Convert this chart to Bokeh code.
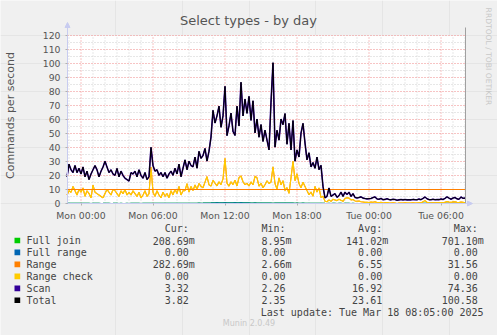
from datetime import datetime, timedelta
import math
from bokeh.plotting import figure
from bokeh.models import (ColumnDataSource, Range1d, FixedTicker, DatetimeTickFormatter,
                          DatetimeAxis, LinearAxis, BoxAnnotation, Arrow, NormalHead)
from bokeh.core.properties import value
from bokeh.transform import stack
from bokeh.embed import file_html
from bokeh.resources import INLINE

# ---------------- data ----------------
start_time = datetime(2025, 3, 16, 22, 50)
step_minutes = 10

full_join = [
    0.08, 0.1, 0.06, 0.12, 0.09, 0.07, 0.1, 0.08, 0.11, 0.06,
    0.09, 0.07, 0.05, 0.1, 0.08, 0.06, 0.07, 0.05, 0.06, 0.09,
    0.08, 0.07, 0.05, 0.06, 0.08, 0.07, 0.05, 0.06, 0.04, 0.05,
    0.06, 0.05, 0.07, 0.06,
    0.08, 0.06, 0.07, 0.05, 0.09, 0.08, 0.06, 0.1, 0.12, 0.09,
    0.08, 0.11, 0.1, 0.09, 0.12, 0.1, 0.11, 0.13, 0.12, 0.15,
    0.14, 0.12, 0.16, 0.13, 0.15, 0.18, 0.14, 0.17, 0.16, 0.2,
    0.18, 0.22, 0.25, 0.21,
    0.24, 0.3, 0.28, 0.35, 0.42, 0.55, 0.48, 0.61, 0.52, 0.45,
    0.58, 0.701, 0.5, 0.44, 0.53, 0.47, 0.6, 0.51, 0.46, 0.65,
    0.55, 0.49, 0.43, 0.52, 0.4, 0.38, 0.45, 0.36, 0.33, 0.4,
    0.3, 0.35, 0.28, 0.3,
    0.32, 0.22, 0.27, 0.3, 0.25, 0.33, 0.28, 0.26, 0.3, 0.24,
    0.27, 0.25, 0.22, 0.26, 0.2, 0.23, 0.25, 0.21, 0.19, 0.22,
    0.18, 0.2, 0.17, 0.19, 0.16, 0.18, 0.12, 0.06, 0.05, 0.08,
    0.05, 0.06,
    0.06, 0.05, 0.07, 0.06, 0.05, 0.08, 0.07, 0.06, 0.05, 0.06,
    0.04, 0.05, 0.04, 0.03, 0.04, 0.03, 0.02, 0.03, 0.02, 0.03,
    0.02, 0.02, 0.01, 0.02, 0.01, 0.02, 0.01, 0.01, 0.02, 0.01,
    0.01, 0.009, 0.01, 0.01, 0.01, 0.02, 0.01, 0.01, 0.02, 0.02,
    0.03, 0.04, 0.04, 0.05, 0.06, 0.06, 0.08, 0.09, 0.1, 0.12,
    0.11, 0.13, 0.14, 0.15, 0.14, 0.16, 0.17, 0.16, 0.18, 0.19,
    0.18, 0.2, 0.19, 0.21, 0.2, 0.209,
]

range_sel = [
    6, 9, 8, 12, 9, 6, 10, 8, 11, 5, 9, 7, 4, 13, 8, 7, 6, 5, 4, 7,
    10, 8, 6, 10, 9, 7, 5, 9, 7, 10, 6, 8, 6, 9,
    7, 5, 8, 4, 6, 9, 5, 7, 26, 8, 5, 9, 6, 4, 8, 5, 7, 4, 9, 6,
    10, 7, 12, 6, 9, 9, 14, 8, 12, 9, 13, 10, 14, 12,
    11, 15, 19, 13, 12, 16, 14, 12, 15, 13, 17, 31.56, 14, 12, 15, 13, 16, 12, 18, 19,
    15, 13, 14, 12, 15, 13, 19, 18, 12, 14, 11, 13, 16, 14,
    15, 26, 14, 10, 18, 13, 16, 9, 11, 7, 18, 30, 16, 21, 14, 11, 15, 12, 9, 6,
    8, 5, 12, 8, 11, 4, 5, 1.5, 1.2, 2.5, 1.5, 3,
    2.5, 2, 3, 2.2, 1.5, 3.5, 4, 3.8, 2.5, 2.8, 1.8, 1.5, 1.8, 1.2, 1.0, 0.8, 0.9, 0.7, 1.0, 0.8,
    1.2, 0.6, 0.5, 0.8, 0.4, 0.5, 0.6, 0.4, 0.3, 0.5, 0.4, 0.05, 0.3, 0.4, 0.3, 0.4, 0.3, 0.3, 0.3, 0.4,
    0.3, 0.3, 0.5, 0.4, 1.2, 2.0, 0.8, 0.4, 0.3, 0.4, 0.3, 0.3, 0.3, 0.5, 0.4, 0.8, 1.2, 0.9, 0.6, 1.0,
    1.1, 0.7, 0.5, 0.9, 0.6, 0.28,
]

scan = [
    13, 19, 16, 10, 18, 16, 15, 13, 15, 14, 14, 10, 17, 11, 19, 17, 13, 18, 22, 23,
    16, 14, 18, 11, 11, 18, 14, 14, 13, 8, 11, 8, 16, 12,
    16, 14, 16, 16, 12, 13, 12, 12, 14, 19, 18, 15, 14, 18, 11, 17, 11, 17, 14, 14,
    15, 14, 16, 13, 16, 22, 10, 22, 15, 17, 20, 15, 23, 20,
    23, 24, 11, 24, 35, 50, 43, 50, 54, 41, 45, 51.4, 34, 43, 49, 38, 32, 57, 37, 67,
    47, 61, 50, 64, 44, 60, 31, 42, 35, 42, 33, 39, 29, 24,
    57, 74.36, 26, 42, 27, 47, 40, 55, 31, 50, 20, 29, 14, 17, 19, 39, 42, 31, 22, 30,
    18, 24, 13, 25, 13, 23, 7, 2.5, 3.8, 8.5, 3.5, 3,
    4.5, 2.4, 2.5, 5.8, 3.5, 4.5, 2.4, 4.2, 2.5, 4.2, 2.5, 2.4, 2.4, 3.5, 2.8, 2.7, 2.4, 2.7, 2.6, 3.4,
    3.5, 2.6, 2.5, 2.8, 2.3, 2.4, 2.8, 2.4, 2.3, 2.5, 2.4, 2.26, 2.3, 2.4, 2.3, 2.4, 2.3, 2.4, 2.3, 2.5,
    2.4, 2.3, 2.6, 2.3, 2.4, 2.6, 2.5, 2.3, 2.3, 2.5, 2.3, 2.4, 2.3, 2.6, 2.3, 2.7, 3.4, 2.8, 2.3, 2.7,
    3.0, 2.4, 2.3, 3.5, 2.9, 3.32,
]

n = min(len(full_join), len(range_sel), len(scan))
full_join, range_sel, scan = full_join[:n], range_sel[:n], scan[:n]
full_range = [0.0] * n
range_check = [0.0] * n
times = [start_time + timedelta(minutes=step_minutes * i) for i in range(n)]

series_names = ["Full join", "Full range", "Range", "Range check", "Scan", "Total"]
series_colors = ["#00CC00", "#0066B3", "#FF8000", "#FFCC00", "#330099", "#000000"]
cur_vals = ["208.69m", "0.00", "282.69m", "0.00", "3.32", "3.82"]
min_vals = ["8.95m", "0.00", "2.66m", "0.00", "2.26", "2.35"]
avg_vals = ["141.02m", "0.00", "6.55", "0.00", "16.92", "23.61"]
max_vals = ["701.10m", "0.00", "31.56", "0.00", "74.36", "100.58"]
col_headers = ["Cur:", "Min:", "Avg:", "Max:"]

y_ticks = list(range(0, 121, 10))
y_minor = list(range(5, 120, 10))
warning_level = 10
view_start = datetime(2025, 3, 16, 22, 52, 30)
view_end = datetime(2025, 3, 18, 8, 2, 30)
x_major = [datetime(2025, 3, 17, 0) + timedelta(hours=6 * k) for k in range(6)]
x_minor = [datetime(2025, 3, 16, 23) + timedelta(hours=k) for k in range(34)]

title_text = "Select types - by day"
y_label = "Commands per second"
side_text = "RRDTOOL / TOBI OETIKER"
last_update = "Last update: Tue Mar 18 08:05:00 2025"
footer = "Munin 2.0.49"

# ---------------- geometry ----------------
epoch = datetime(1970, 1, 1)
def ms(d):
    return (d - epoch).total_seconds() * 1000.0

W, H = 497, 335
FL, FT, FR, FB = 67, 35, 465, 203        # chart area in page pixels
y_lo, y_hi = y_ticks[0], y_ticks[-1]
t0, t1 = ms(view_start), ms(view_end)
px_per_ms = (FR - FL) / (t1 - t0)
px_per_unit = (FB - FT) / (y_hi - y_lo)
xr = Range1d(t0 - FL / px_per_ms, t1 + (W - FR) / px_per_ms)
yr = Range1d(y_lo - (H - FB) / px_per_unit, y_hi + FT / px_per_unit)

BG = "#F0F0F0"
p = figure(width=W, height=H, output_backend="svg", toolbar_location=None,
           title=None, x_range=xr, y_range=yr,
           x_axis_location=None, y_axis_location=None,
           min_border=0, min_border_left=0, min_border_right=0,
           min_border_top=0, min_border_bottom=0,
           background_fill_color=BG, border_fill_color=BG, outline_line_color=None)
p.extra_x_ranges = {"px": Range1d(0, W)}
p.extra_y_ranges = {"px": Range1d(H, 0)}

# white canvas of the chart
p.add_layout(BoxAnnotation(left=t0, right=t1, bottom=y_lo, top=y_hi,
                           fill_color="#FFFFFF", fill_alpha=1.0, line_color=None,
                           level="underlay"))

# grid lines
xmin_ms = [ms(d) for d in x_minor if d not in x_major]
xmaj_ms = [ms(d) for d in x_major]
dash = "1 2"
p.segment(x0=xmin_ms, y0=[y_lo] * len(xmin_ms), x1=xmin_ms, y1=[y_hi] * len(xmin_ms),
          line_color="#CFCFCF", line_dash=dash, line_width=1)
p.segment(x0=[t0] * len(y_minor), y0=y_minor, x1=[t1] * len(y_minor), y1=y_minor,
          line_color="#CFCFCF", line_dash=dash, line_width=1)
p.segment(x0=xmaj_ms, y0=[y_lo] * len(xmaj_ms), x1=xmaj_ms, y1=[y_hi] * len(xmaj_ms),
          line_color="#EE8888", line_dash=dash, line_width=1)
yt = y_ticks[1:]
p.segment(x0=[t0] * len(yt), y0=yt, x1=[t1] * len(yt), y1=yt,
          line_color="#EE8888", line_dash=dash, line_width=1)

# axes drawn at the chart edges
axis_col = "#C8CCF0"
xa = DatetimeAxis(fixed_location=y_lo, bounds=(t0, t1),
                  ticker=FixedTicker(ticks=xmaj_ms),
                  formatter=DatetimeTickFormatter(minutes="%a %H:%M", hourmin="%a %H:%M",
                                                  hours="%a %H:%M", days="%a %H:%M",
                                                  strip_leading_zeros=False))
ya = LinearAxis(fixed_location=t0, bounds=(y_lo, y_hi), ticker=FixedTicker(ticks=y_ticks))
for ax in (xa, ya):
    ax.axis_line_color = axis_col
    ax.major_tick_line_color = "#B0B0B0"
    ax.major_tick_in = 0
    ax.major_tick_out = 2
    ax.minor_tick_line_color = None
    ax.major_label_text_font = "DejaVu Sans"
    ax.major_label_text_font_size = "9.3px"
    ax.major_label_text_color = "#555555"
ya.major_label_standoff = 5
xa.major_label_standoff = 4
p.add_layout(xa, "below")
p.add_layout(ya, "left")

# axis arrows
p.add_layout(Arrow(x_start=t0, y_start=y_hi, x_end=t0, y_end=y_hi + 13 / px_per_unit,
                   line_color=axis_col, line_width=1,
                   end=NormalHead(size=5, fill_color=axis_col, line_color=axis_col)))
p.add_layout(Arrow(x_start=t1, y_start=y_lo, x_end=t1 + 7 / px_per_ms, y_end=y_lo,
                   line_color=axis_col, line_width=1,
                   end=NormalHead(size=5, fill_color=axis_col, line_color=axis_col)))

# series (munin STACK)
src = ColumnDataSource(dict(t=times, fj=full_join, fr=full_range, rg=range_sel,
                            rc=range_check, sc=scan))
cols = ["fj", "fr", "rg", "rc", "sc"]
p.line(x="t", y=stack("fj"), source=src, line_color=series_colors[0], line_width=1.1)
p.line(x="t", y=stack("fj", "fr"), source=src, line_color=series_colors[1],
       line_width=1.1, line_alpha=0.8)
p.line(x="t", y=stack("fj", "fr", "rg"), source=src, line_color=series_colors[2],
       line_width=1.1)
p.line(x="t", y=stack("fj", "fr", "rg", "rc"), source=src, line_color=series_colors[3],
       line_width=1.1)
p.segment(x0=[t0], y0=[warning_level], x1=[t1], y1=[warning_level],
          line_color="#FF8000", line_width=1)
p.line(x="t", y=stack(*cols), source=src, line_color=series_colors[4], line_width=1.6)
p.line(x="t", y=stack(*cols), source=src, line_color=series_colors[5], line_width=1.0)

# right border line
p.segment(x0=[t1], y0=[27], x1=[t1], y1=[FB], y_range_name="px",
          line_color="#A0A0A0", line_width=1)

# ---------------- texts (page-pixel coordinates) ----------------
sans = value("DejaVu Sans")
mono = value("DejaVu Sans Mono")
kw = dict(x_range_name="px", y_range_name="px", text_baseline="middle")

p.text(x=[248], y=[20], text=[title_text], text_font=sans, text_font_size=value("13px"),
       text_color="#555555", text_align="center", **kw)
p.text(x=[10], y=[115], text=[y_label], text_font=sans, text_font_size=value("11px"),
       text_color="#555555", text_align="center", angle=math.pi / 2, **kw)
p.text(x=[488], y=[56], text=[side_text], text_font=sans, text_font_size=value("7.6px"),
       text_color="#C8C8C8", text_align="center", angle=-math.pi / 2, **kw)

fs = value("10px")
txt_color = "#444444"
col_edges = [188.3, 285.0, 381.7, 477.3]
row0, dy = 240.0, 11.95
header_y = 228.0

p.text(x=col_edges, y=[header_y] * 4, text=col_headers, text_font=mono,
       text_font_size=fs, text_color=txt_color, text_align="right", **kw)

rows_y = [row0 + dy * r for r in range(len(series_names))]
p.rect(x=[16.85] * len(series_names), y=rows_y, width=5.7, height=5.7,
       fill_color=series_colors, line_color=None, x_range_name="px", y_range_name="px")
p.text(x=[26] * len(series_names), y=rows_y, text=series_names, text_font=mono,
       text_font_size=fs, text_color=txt_color, text_align="left", **kw)

for vals, e in zip((cur_vals, min_vals, avg_vals, max_vals), col_edges):
    nums = [s[:-1] if s.endswith("m") else s for s in vals]
    p.text(x=[e] * len(nums), y=rows_y, text=nums, text_font=mono, text_font_size=fs,
           text_color=txt_color, text_align="right", **kw)
    mx = [e for s in vals if s.endswith("m")]
    my = [y for s, y in zip(vals, rows_y) if s.endswith("m")]
    if mx:
        p.text(x=mx, y=my, text=["m"] * len(mx), text_font=mono, text_font_size=fs,
               text_color=txt_color, text_align="left", **kw)

p.text(x=[483], y=[row0 + dy * 6], text=[last_update], text_font=mono,
       text_font_size=fs, text_color=txt_color, text_align="right", **kw)
p.text(x=[248.5], y=[323.3], text=[footer], text_font=sans,
       text_font_size=value("8px"), text_color="#C8C8C8", text_align="center", **kw)

open("out.html", "w").write(file_html(p, INLINE))
